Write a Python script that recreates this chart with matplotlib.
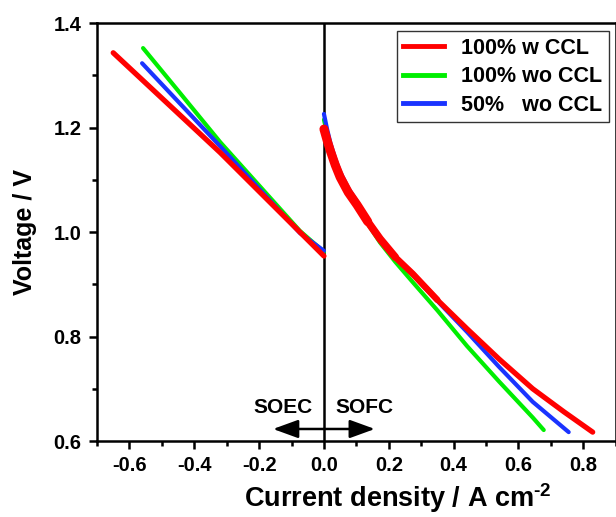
import matplotlib
matplotlib.use("Agg")
import matplotlib.pyplot as plt
from matplotlib.ticker import MultipleLocator, FormatStrFormatter

plt.rcParams['font.family'] = ['Liberation Sans', 'DejaVu Sans']
plt.rcParams['font.weight'] = 'bold'
plt.rcParams['mathtext.fontset'] = 'custom'
plt.rcParams['mathtext.rm'] = 'Liberation Sans:bold'
plt.rcParams['mathtext.bf'] = 'Liberation Sans:bold'
plt.rcParams['mathtext.default'] = 'bf'
plt.rcParams['axes.unicode_minus'] = False

labels = ["100% w CCL", "100% wo CCL", "50%   wo CCL"]
colors = ["#ff0000", "#00ee00", "#1a33ff"]

# Electrolysis branch (negative current)
soec_j = [
    [-0.650, -0.320, 0.0],
    [-0.558, -0.440, -0.320, -0.074, 0.0],
    [-0.561, -0.320, -0.074, 0.0],
]
soec_v = [
    [1.343, 1.152, 0.954],
    [1.352, 1.263, 1.172, 1.002, 0.962],
    [1.323, 1.164, 0.998, 0.964],
]

# Fuel-cell branch (positive current)
sofc_j = [
    [0.0, 0.01, 0.02, 0.035, 0.05, 0.075, 0.102, 0.135, 0.173, 0.22, 0.274, 0.35, 0.441, 0.54, 0.644, 0.74, 0.829],
    [0.0, 0.01, 0.02, 0.035, 0.05, 0.075, 0.102, 0.135, 0.173, 0.22, 0.274, 0.35, 0.441, 0.54, 0.644, 0.678],
    [0.0, 0.01, 0.02, 0.035, 0.05, 0.075, 0.102, 0.135, 0.173, 0.22, 0.274, 0.35, 0.441, 0.54, 0.644, 0.755],
]
sofc_v = [
    [1.197, 1.175, 1.155, 1.128, 1.105, 1.076, 1.052, 1.020, 0.987, 0.952, 0.920, 0.870, 0.815, 0.757, 0.700, 0.656, 0.617],
    [1.215, 1.188, 1.165, 1.135, 1.110, 1.079, 1.052, 1.016, 0.980, 0.943, 0.904, 0.850, 0.782, 0.714, 0.645, 0.621],
    [1.226, 1.196, 1.170, 1.140, 1.115, 1.084, 1.058, 1.024, 0.990, 0.954, 0.918, 0.868, 0.809, 0.742, 0.675, 0.617],
]

x_ticks = [-0.6, -0.4, -0.2, 0.0, 0.2, 0.4, 0.6, 0.8]
y_ticks = [0.6, 0.8, 1.0, 1.2, 1.4]

fig = plt.figure(figsize=(6.16, 5.17), dpi=100)
ax = fig.add_axes([0.1575, 0.147, 0.842, 0.8085])

order = [1, 2, 0]
widths = [3.8, 3.0, 3.0]
for i in order:
    ax.plot(soec_j[i], soec_v[i], color=colors[i], lw=widths[i],
            solid_capstyle='round', solid_joinstyle='round', zorder=3)
for i in order:
    ax.plot(sofc_j[i], sofc_v[i], color=colors[i], lw=widths[i],
            solid_capstyle='round', solid_joinstyle='round', zorder=3)

# the densely sampled red trace near open circuit reads as a broader band,
# tapering off with increasing current
for (a, b), w in [((0, 8), 6.5), ((7, 10), 5.5), ((9, 12), 4.6)]:
    ax.plot(sofc_j[0][a:b], sofc_v[0][a:b], color=colors[0], lw=w,
            solid_capstyle='round', solid_joinstyle='round', zorder=3)

handles = [plt.Line2D([], [], color=c, lw=3.5) for c in colors]
leg = ax.legend(handles, labels, loc='upper right', bbox_to_anchor=(0.987, 0.98),
                prop={'weight': 'bold', 'size': 15.5}, frameon=True, fancybox=False,
                edgecolor='black', handlelength=1.9, handletextpad=0.8,
                borderpad=0.3, labelspacing=0.35, borderaxespad=0)
leg.get_frame().set_linewidth(1.0)

ax.axvline(0.0, color='black', lw=1.8, zorder=2)

for tip in (-0.157, 0.157):
    ax.annotate('', xy=(tip, 0.623), xytext=(0.0, 0.623),
                arrowprops=dict(arrowstyle='-|>,head_length=1.1,head_width=0.4',
                                color='black', lw=1.8, shrinkA=0, shrinkB=0,
                                mutation_scale=14))
ax.text(-0.126, 0.665, 'SOEC', ha='center', va='center', fontsize=15, fontweight='bold')
ax.text(0.126, 0.665, 'SOFC', ha='center', va='center', fontsize=15, fontweight='bold')

ax.set_xlim(-0.7, 0.9)
ax.set_ylim(0.6, 1.4)
ax.set_xticks(x_ticks)
ax.set_yticks(y_ticks)
ax.xaxis.set_major_formatter(FormatStrFormatter('%.1f'))
ax.yaxis.set_major_formatter(FormatStrFormatter('%.1f'))
ax.xaxis.set_minor_locator(MultipleLocator(0.1))
ax.yaxis.set_minor_locator(MultipleLocator(0.1))
ax.tick_params(which='major', direction='out', length=6, width=1.8, labelsize=14.5, pad=5)
ax.tick_params(which='minor', direction='out', length=3.5, width=1.8)
for lbl in ax.get_xticklabels() + ax.get_yticklabels():
    lbl.set_fontweight('bold')
for s in ax.spines.values():
    s.set_linewidth(1.8)

ax.set_xlabel('Current density / A cm$^{\\text{-2}}$', fontsize=19.5, fontweight='bold')
ax.xaxis.set_label_coords(0.58, -0.097)
ax.set_ylabel('Voltage / V', fontsize=18, fontweight='bold', labelpad=12)

fig.savefig('out.png', dpi=100)
